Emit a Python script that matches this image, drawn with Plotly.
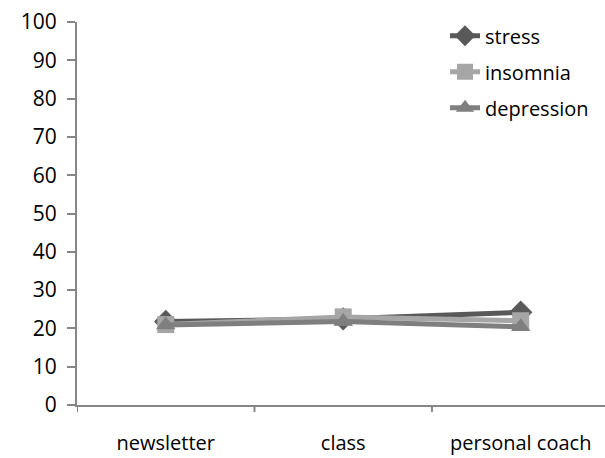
import plotly.graph_objects as go

categories = ["newsletter", "class", "personal coach"]
stress = [21.8, 22.5, 24.2]
insomnia = [21.0, 23.0, 22.0]
depression = [20.9, 21.8, 20.4]
y_ticks = list(range(0, 101, 10))

series = [
    ("stress", stress, "#595959", "diamond", 18),
    ("insomnia", insomnia, "#A6A6A6", "square", 17),
    ("depression", depression, "#7F7F7F", "triangle-up", 17),
]

font_family = "Open Sans, Liberation Sans, sans-serif"

fig = go.Figure()
for name, vals, color, sym, msize in series:
    fig.add_trace(go.Scatter(
        x=list(range(len(categories))), y=vals, name=name, mode="lines+markers",
        legendgroup=name,
        line=dict(color=color, width=5),
        marker=dict(symbol=sym, size=msize, color=color),
    ))

fig.update_layout(
    width=605, height=458,
    margin=dict(l=77, r=0, t=22, b=53),
    plot_bgcolor="white", paper_bgcolor="white",
    font=dict(family=font_family, size=20, color="#000000"),
    showlegend=True,
    legend=dict(x=0.697, y=1.015, xanchor="left", yanchor="top",
                bgcolor="rgba(0,0,0,0)", font=dict(size=20),
                tracegroupgap=7, itemwidth=30),
    xaxis=dict(
        range=[-0.5, 2.475],
        tickmode="array", tickvals=list(range(len(categories))), ticktext=categories,
        showgrid=False, zeroline=False,
        showline=True, linecolor="#868686", linewidth=2,
        ticks="", ticklabelstandoff=19, automargin=False,
    ),
    yaxis=dict(
        range=[0, 100], tickvals=y_ticks,
        showgrid=False, zeroline=False,
        showline=True, linecolor="#868686", linewidth=2,
        ticks="outside", ticklen=8, tickcolor="#868686", tickwidth=2,
        ticklabelstandoff=6, tickfont=dict(size=21), automargin=False,
    ),
)

for b in [-0.5, 0.5, 1.5]:
    fig.add_shape(type="line", xref="x", yref="paper", x0=b, x1=b, y0=0, y1=-0.018,
                  line=dict(color="#868686", width=2))

fig.write_html("out.html", config={"displayModeBar": False},
               post_script="document.body.style.margin='0';document.body.style.padding='0';")
